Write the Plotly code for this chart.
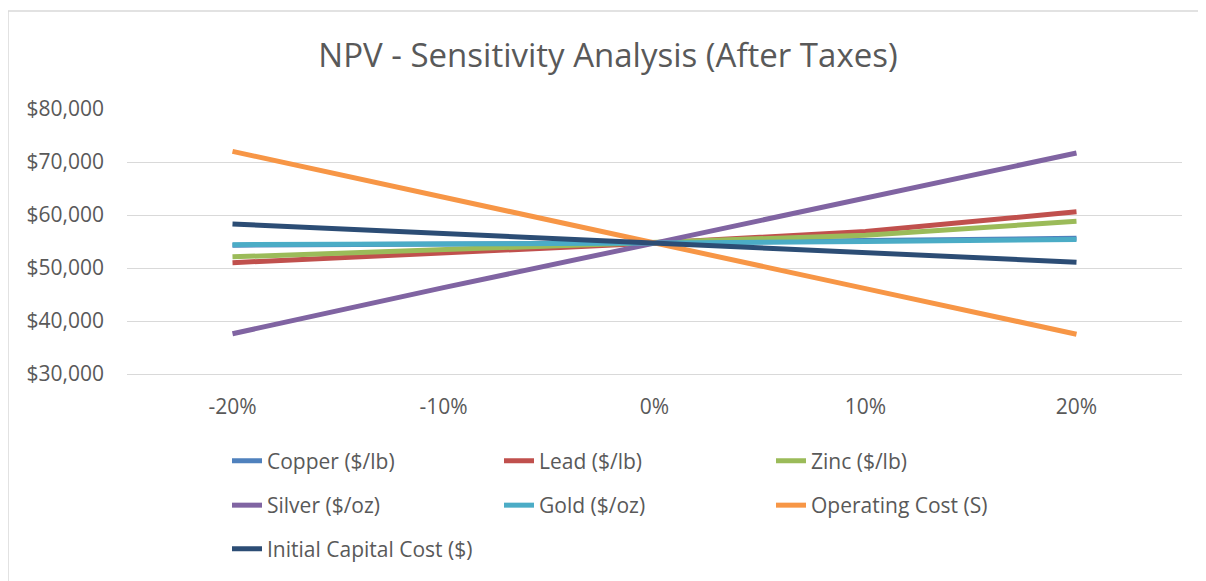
import plotly.graph_objects as go

# Sensitivity steps on the category axis
changes = ["-20%", "-10%", "0%", "10%", "20%"]

# NPV after taxes for each driver
copper = [54300, 54500, 54700, 55200, 55600]
lead = [51000, 52800, 54700, 56900, 60600]
zinc = [52100, 53400, 54700, 56200, 58800]
silver = [37600, 46300, 54700, 63300, 71700]
gold = [54400, 54500, 54700, 55000, 55400]
operating_cost = [72000, 63300, 54700, 46100, 37500]
capital_cost = [58300, 56500, 54700, 53100, 51100]

series = [
    ("Copper ($/lb)", copper, "#4F81BD", "legend"),
    ("Lead ($/lb)", lead, "#C0504D", "legend"),
    ("Zinc ($/lb)", zinc, "#9BBB59", "legend"),
    ("Silver ($/oz)", silver, "#8064A2", "legend2"),
    ("Gold ($/oz)", gold, "#4BACC6", "legend2"),
    ("Operating Cost (S)", operating_cost, "#F79646", "legend2"),
    ("Initial Capital Cost ($)", capital_cost, "#2C4D75", "legend3"),
]

FONT = "'Open Sans', sans-serif"
GREY = "#595959"

fig = go.Figure()
for name, values, color, leg in series:
    fig.add_trace(go.Scatter(x=changes, y=values, name=name, mode="lines",
                             line=dict(color=color, width=5), legend=leg))

# page has an 8px body margin; plot area should land at x 127..1182, y 109..377
W, H = 1198, 573
left, right, top, bottom = 119, 24, 101, 204
pw = W - left - right
ph = H - top - bottom


def py(pixel_y):
    return (377 - pixel_y) / ph


def px(pixel_x):
    return (pixel_x - 127) / pw


legend_style = dict(orientation="h", xanchor="left", yanchor="middle", x=px(227),
                    entrywidth=227, font=dict(family=FONT, size=21, color=GREY),
                    bgcolor="rgba(0,0,0,0)", itemclick=False)

fig.update_layout(
    width=W, height=H,
    margin=dict(l=left, r=right, t=top, b=bottom),
    paper_bgcolor="white", plot_bgcolor="white",
    font=dict(family=FONT, color=GREY),
    title=dict(text="NPV - Sensitivity Analysis (After Taxes)", x=600 / W, xanchor="center",
               y=1 - 47 / H, yanchor="middle", font=dict(family=FONT, size=33, color=GREY)),
    xaxis=dict(type="category", range=[-0.5, 4.5], showgrid=False, showline=True,
               linecolor="#D9D9D9", linewidth=1, ticks="", ticklabelstandoff=14,
               tickfont=dict(family=FONT, size=21, color=GREY), zeroline=False),
    yaxis=dict(range=[30000, 80000], dtick=10000, tickformat="$,.0f", showgrid=True,
               gridcolor="#D9D9D9", gridwidth=1, zeroline=False, ticks="",
               ticklabelstandoff=22, tickfont=dict(family=FONT, size=21, color=GREY)),
    legend=dict(legend_style, y=py(465)),
    legend2=dict(legend_style, y=py(510)),
    legend3=dict(legend_style, y=py(554)),
    showlegend=True,
)

# chart-area border (top and left edges visible)
fig.add_shape(type="line", xref="paper", yref="paper", x0=px(8), x1=px(1215), y0=py(10), y1=py(10),
              line=dict(color="#D9D9D9", width=1.5))
fig.add_shape(type="line", xref="paper", yref="paper", x0=px(8), x1=px(8), y0=py(10), y1=py(590),
              line=dict(color="#D9D9D9", width=1.5))

fig.write_html("out.html")
